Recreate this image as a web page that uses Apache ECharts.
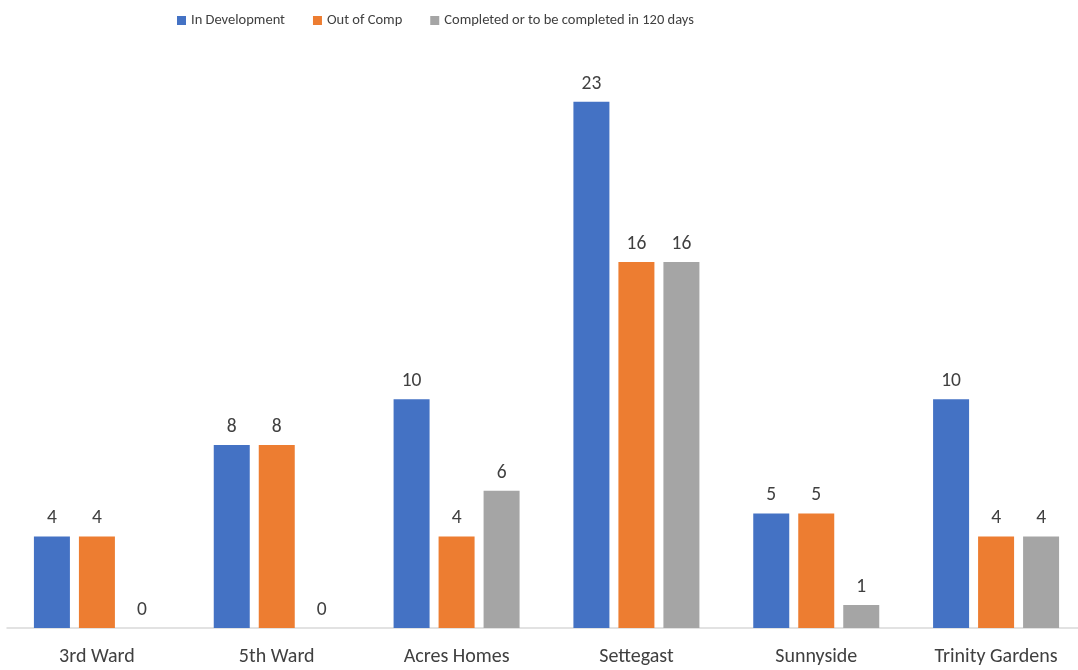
<!DOCTYPE html>
<html><head><meta charset="utf-8">
<script src="https://cdn.jsdelivr.net/npm/echarts@6/dist/echarts.min.js"></script>
<style>html,body{margin:0;padding:0;background:#fff;overflow:hidden;width:1078px;height:670px}#c{width:1100px;height:670px}</style>
</head><body><div id="c"></div>
<script>
const categories = ["3rd Ward","5th Ward","Acres Homes","Settegast","Sunnyside","Trinity Gardens"];
const inDevelopment = [4,8,10,23,5,10];
const outOfComp = [4,8,4,16,5,4];
const completed = [0,0,6,16,1,4];
const seriesNames = ["In Development","Out of Comp","Completed or to be completed in 120 days"];
const colors = ["#4472C4","#ED7D31","#A5A5A5"];
const font = "Carlito, 'Liberation Sans', sans-serif";
const chart = echarts.init(document.getElementById('c'));
const lbl = {show:true, position:'top', distance:8, color:'#404040', fontSize:19.5, fontFamily:font};
chart.setOption({
  animation:false,
  color:colors,
  legend:{top:8, left:172, itemWidth:9, itemHeight:9, itemGap:28, icon:'rect',
    textStyle:{color:'#404040', fontSize:14.5, fontFamily:font}},
  grid:{left:7, width:1079, top:56, bottom:42, containLabel:false},
  xAxis:{type:'category', data:categories,
    axisLine:{lineStyle:{color:'#D9D9D9', width:1.5}}, axisTick:{show:false},
    axisLabel:{color:'#404040', fontSize:20, fontFamily:font, margin:19}},
  yAxis:{type:'value', min:0, max:25, show:false, splitLine:{show:false}},
  series:[
    {name:seriesNames[0], type:'bar', data:inDevelopment, barWidth:36, barGap:'25%', label:lbl},
    {name:seriesNames[1], type:'bar', data:outOfComp, barWidth:36, barGap:'25%', label:lbl},
    {name:seriesNames[2], type:'bar', data:completed, barWidth:36, barGap:'25%', label:lbl}
  ]
});
</script></body></html>
